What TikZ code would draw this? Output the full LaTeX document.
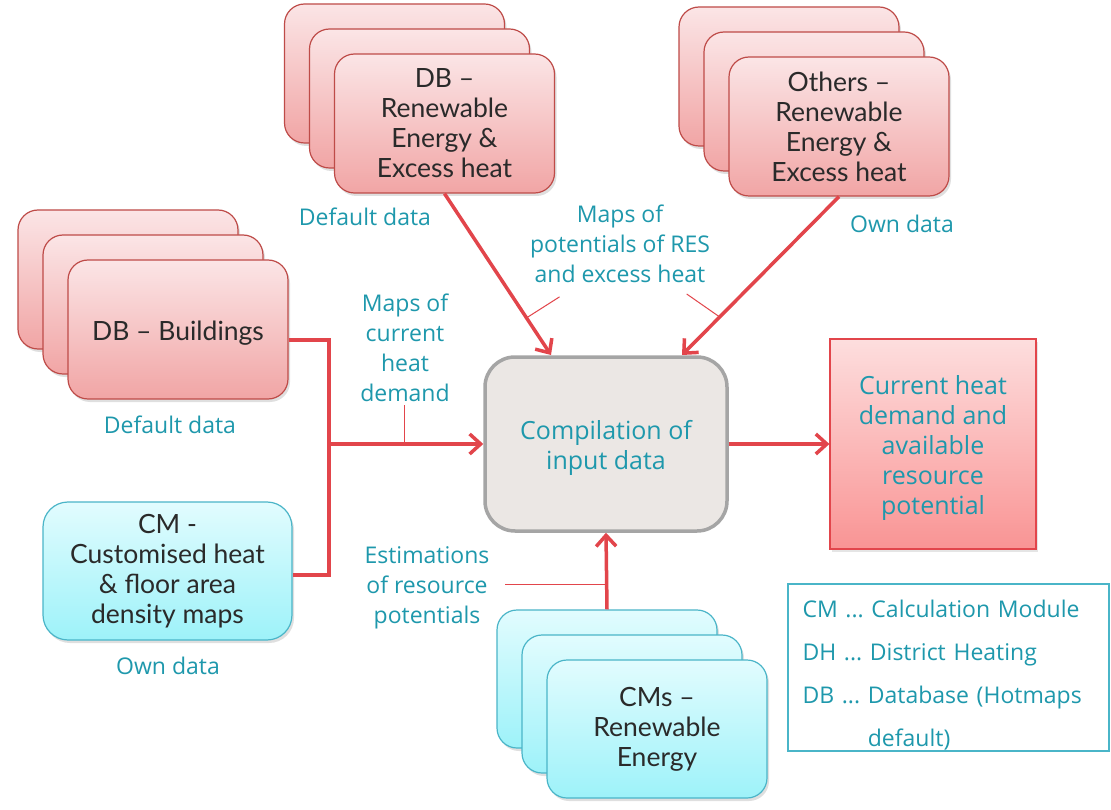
\documentclass[tikz,border=0pt]{standalone}
\usepackage{fontspec}
\setmainfont{Lato}
\newfontfamily\labfont{Open Sans}
\usetikzlibrary{arrows.meta,shadows}
\definecolor{pinktop}{HTML}{FBE5E6}
\definecolor{pinkbot}{HTML}{F1A5A5}
\definecolor{pinkline}{HTML}{BE4B48}
\definecolor{cyantop}{HTML}{E2FCFE}
\definecolor{cyanbot}{HTML}{9DF2F9}
\definecolor{cyanline}{HTML}{4AB5C8}
\definecolor{cmpfill}{HTML}{EBE7E4}
\definecolor{cmpline}{HTML}{A5A5A5}
\definecolor{restop}{HTML}{FDDEDE}
\definecolor{resbot}{HTML}{F99494}
\definecolor{lnred}{HTML}{E2454B}
\definecolor{labteal}{HTML}{1E98AC}
\definecolor{boxtxt}{HTML}{2A2A2A}
\begin{document}
\begin{tikzpicture}[x=1pt,y=-1pt,
 box/.style={rounded corners=20pt,minimum width=220pt,minimum height=139pt,inner sep=0pt,align=center,text=boxtxt,font=\fontsize{26.5}{30}\selectfont,line width=1.2pt,execute at begin node={\rule{0pt}{26pt}}},
 pinkbox/.style={box,draw=pinkline,top color=pinktop,bottom color=pinkbot,drop shadow={opacity=0.25,shadow xshift=2pt,shadow yshift=-3pt}},
 cyanbox/.style={box,draw=cyanline,top color=cyantop,bottom color=cyanbot,drop shadow={opacity=0.25,shadow xshift=2pt,shadow yshift=-3pt}},
 lab/.style={text=labteal,font=\labfont\fontsize{23}{30}\selectfont,align=center,inner sep=0pt},
 link/.style={draw=lnred,line width=3.5pt},
 linkarrow/.style={link,-{Straight Barb[length=11pt,width=20pt]}},
 tick/.style={draw=lnred,line width=1pt}]
\useasboundingbox (0,0) rectangle (1111,810);
\fill[white] (0,0) rectangle (1111,810);
\node[pinkbox] (bld3) at (128,279.5) {};
\node[pinkbox] (bld2) at (153,304.5) {};
\node[pinkbox] (bld) at (178,329.5) {DB -- Buildings};
\node[pinkbox] (dbre3) at (394.5,73.5) {};
\node[pinkbox] (dbre2) at (419.5,98.5) {};
\node[pinkbox] (dbre) at (444.5,123.5) {DB --\\Renewable\\Energy \&\\Excess heat};
\node[pinkbox] (oth3) at (789,76.5) {};
\node[pinkbox] (oth2) at (814,101.5) {};
\node[pinkbox] (oth) at (839,126.5) {Others --\\Renewable\\Energy \&\\Excess heat};
\node[cyanbox,minimum height=138pt] (cms3) at (607,679) {};
\node[cyanbox,minimum height=138pt] (cms2) at (632,704) {};
\node[cyanbox,minimum height=138pt] (cms) at (657,729) {CMs --\\Renewable\\Energy};
\node[cyanbox,minimum width=249pt,minimum height=138pt,rounded corners=25pt] (cmc) at (167.5,571) {CM -\\Customised heat\\\& floor area\\density maps};
\node[draw=cmpline,fill=cmpfill,line width=3.5pt,rounded corners=30pt,minimum width=242pt,minimum height=174pt,inner sep=0pt,align=center,text=labteal,font=\labfont\fontsize{25}{30}\selectfont] (cmp) at (606,444) {\rule{0pt}{27pt}Compilation of\\input data};
\node[draw=lnred,line width=1.2pt,top color=restop,bottom color=resbot,minimum width=206pt,minimum height=210pt,inner sep=0pt,align=center,text=labteal,font=\labfont\fontsize{25}{30}\selectfont,drop shadow={opacity=0.2,shadow xshift=2pt,shadow yshift=-3pt}] (res) at (933,444) {\rule{0pt}{27pt}Current heat\\demand and\\available\\resource\\potential};
\node[draw=cyanline,line width=1.5pt,minimum width=321pt,minimum height=167pt,text width=292pt,inner sep=0pt,align=left,text=labteal,font=\labfont\fontsize{23}{43}\selectfont\frenchspacing] (leg) at (948.5,667.5) {\rule{0pt}{32pt}CM ... Calculation Module\\DH ... District Heating\\DB ... Database (Hotmaps\\\phantom{DB ... }default)};
\node[lab] (ldef1) at (365,217) {Default data};
\node[lab] (lres) at (620,244) {Maps of\\potentials of RES\\and excess heat};
\node[lab] (lown1) at (902,224) {Own data};
\node[lab] (ldef2) at (170,425) {Default data};
\node[lab] (lcur) at (405,348) {Maps of\\current\\heat\\demand};
\node[lab] (lown2) at (168,666) {Own data};
\node[lab] (lest) at (427,588) {Estimations\\of resource\\potentials};
\coordinate (inA) at (551,355);
\coordinate (inB) at (682,355);
\coordinate (jt) at (329,340);
\coordinate (jb) at (329,575);
\coordinate (jn) at (329,444);
\draw[link] (jt-|bld.east) -- (jt) -- (jb) -- (jb-|cmc.east);
\draw[linkarrow] (jn) -- coordinate[pos=0.49] (tkB) (cmp.west);
\draw[linkarrow] (dbre.south) -- coordinate[pos=0.77] (tkA) (inA);
\draw[linkarrow] (oth.south) -- coordinate[pos=0.76] (tkD) (inB);
\draw[linkarrow] (cmp.east) -- (res.west);
\draw[linkarrow] (cms3.north) -- coordinate[pos=0.32] (tkC) (cmp.south);
\draw[tick] (tkA) -- ++(33,-21);
\draw[tick] (tkD) -- ++(-33,-23);
\draw[tick] (tkB) -- ++(0,-39);
\draw[tick] (tkC) -- ++(-102,0);
\end{tikzpicture}
\end{document}
